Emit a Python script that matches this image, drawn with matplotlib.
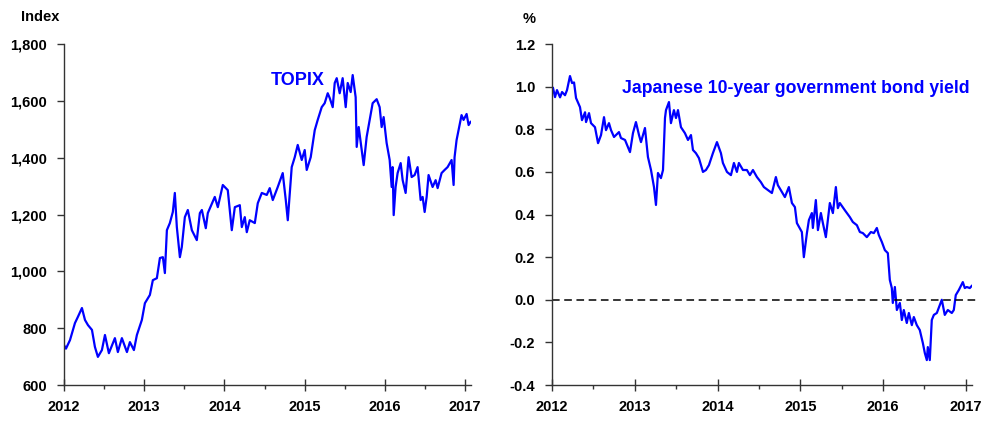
import numpy as np
import matplotlib
matplotlib.use('Agg')
import matplotlib.pyplot as plt
from matplotlib.ticker import MultipleLocator, FuncFormatter

plt.rcParams['font.family'] = ['Liberation Sans', 'DejaVu Sans']
plt.rcParams['font.weight'] = 'bold'

# TOPIX (decimal year, index)
topix_t = [2012.000, 2012.025, 2012.075, 2012.137, 2012.174, 2012.224, 2012.262, 2012.299,
           2012.349, 2012.386, 2012.423, 2012.473, 2012.511, 2012.560, 2012.635, 2012.672,
           2012.722, 2012.785, 2012.822, 2012.872, 2012.909, 2012.971, 2013.009, 2013.071,
           2013.108, 2013.158, 2013.196, 2013.233, 2013.258, 2013.283, 2013.320, 2013.357,
           2013.382, 2013.407, 2013.445, 2013.469, 2013.507, 2013.544, 2013.594, 2013.656,
           2013.694, 2013.719, 2013.768, 2013.793, 2013.880, 2013.918, 2013.980, 2014.042,
           2014.092, 2014.130, 2014.192, 2014.217, 2014.254, 2014.279, 2014.316, 2014.379,
           2014.416, 2014.466, 2014.528, 2014.565, 2014.603, 2014.665, 2014.727, 2014.765,
           2014.790, 2014.839, 2014.877, 2014.914, 2014.964, 2015.001, 2015.026, 2015.076,
           2015.126, 2015.163, 2015.213, 2015.250, 2015.288, 2015.313, 2015.350, 2015.375,
           2015.400, 2015.437, 2015.474, 2015.512, 2015.537, 2015.574, 2015.599, 2015.636,
           2015.649, 2015.674, 2015.711, 2015.736, 2015.773, 2015.811, 2015.848, 2015.898,
           2015.935, 2015.960, 2015.985, 2016.022, 2016.060, 2016.085, 2016.097, 2016.110,
           2016.134, 2016.159, 2016.197, 2016.222, 2016.259, 2016.296, 2016.334, 2016.371,
           2016.408, 2016.446, 2016.471, 2016.496, 2016.521, 2016.545, 2016.595, 2016.633,
           2016.658, 2016.707, 2016.745, 2016.782, 2016.832, 2016.857, 2016.869, 2016.894,
           2016.919, 2016.956, 2016.981, 2017.019, 2017.044, 2017.068]
topix_v = [741, 728, 758, 818, 840, 871, 829, 811,
           794, 734, 699, 723, 776, 712, 765, 716,
           765, 716, 751, 723, 776, 829, 888, 917,
           969, 976, 1047, 1050, 994, 1145, 1170, 1209,
           1276, 1156, 1050, 1086, 1191, 1216, 1145, 1110,
           1205, 1216, 1152, 1205, 1262, 1226, 1304, 1286,
           1145, 1226, 1233, 1156, 1191, 1138, 1180, 1170,
           1240, 1276, 1269, 1293, 1251, 1297, 1346, 1251,
           1180, 1367, 1402, 1445, 1392, 1427, 1357, 1402,
           1497, 1533, 1578, 1592, 1627, 1610, 1578, 1663,
           1680, 1627, 1680, 1578, 1663, 1631, 1691, 1613,
           1438, 1508, 1427, 1374, 1473, 1533, 1592, 1606,
           1578, 1508, 1543, 1452, 1392, 1297, 1367, 1198,
           1297, 1346, 1381, 1321, 1276, 1402, 1332, 1339,
           1367, 1251, 1262, 1209, 1262, 1339, 1297, 1321,
           1293, 1346, 1357, 1367, 1392, 1304, 1402, 1462,
           1497, 1550, 1533, 1554, 1515, 1526]

# Japanese 10-year government bond yield (decimal year, %)
jgb_t = [2012.012, 2012.036, 2012.060, 2012.097, 2012.121, 2012.157, 2012.181, 2012.217,
         2012.242, 2012.266, 2012.290, 2012.338, 2012.362, 2012.399, 2012.411, 2012.447,
         2012.471, 2012.519, 2012.556, 2012.592, 2012.628, 2012.652, 2012.688, 2012.713,
         2012.749, 2012.809, 2012.833, 2012.882, 2012.942, 2012.978, 2013.014, 2013.051,
         2013.075, 2013.123, 2013.159, 2013.196, 2013.232, 2013.256, 2013.280, 2013.316,
         2013.341, 2013.365, 2013.377, 2013.413, 2013.437, 2013.473, 2013.498, 2013.522,
         2013.558, 2013.606, 2013.643, 2013.679, 2013.703, 2013.739, 2013.775, 2013.824,
         2013.860, 2013.896, 2013.944, 2013.993, 2014.041, 2014.065, 2014.114, 2014.162,
         2014.198, 2014.234, 2014.258, 2014.307, 2014.355, 2014.391, 2014.428, 2014.476,
         2014.524, 2014.560, 2014.609, 2014.657, 2014.705, 2014.729, 2014.778, 2014.814,
         2014.862, 2014.899, 2014.935, 2014.959, 2015.019, 2015.043, 2015.080, 2015.104,
         2015.140, 2015.152, 2015.188, 2015.213, 2015.249, 2015.273, 2015.309, 2015.333,
         2015.357, 2015.394, 2015.430, 2015.454, 2015.478, 2015.539, 2015.599, 2015.635,
         2015.684, 2015.720, 2015.756, 2015.804, 2015.853, 2015.889, 2015.925, 2015.949,
         2015.986, 2016.022, 2016.058, 2016.082, 2016.106, 2016.118, 2016.143, 2016.167,
         2016.203, 2016.227, 2016.251, 2016.287, 2016.312, 2016.348, 2016.372, 2016.408,
         2016.444, 2016.481, 2016.505, 2016.529, 2016.541, 2016.565, 2016.589, 2016.614,
         2016.650, 2016.686, 2016.710, 2016.746, 2016.783, 2016.831, 2016.855, 2016.879,
         2016.916, 2016.964, 2016.988, 2017.012, 2017.048, 2017.072]
jgb_v = [0.994, 0.951, 0.984, 0.950, 0.975, 0.960, 0.984, 1.050,
         1.017, 1.020, 0.947, 0.904, 0.843, 0.880, 0.834, 0.876,
         0.829, 0.810, 0.735, 0.773, 0.857, 0.796, 0.829, 0.796,
         0.764, 0.787, 0.759, 0.750, 0.693, 0.782, 0.834, 0.773,
         0.740, 0.806, 0.670, 0.609, 0.529, 0.445, 0.595, 0.571,
         0.609, 0.853, 0.890, 0.928, 0.829, 0.890, 0.853, 0.890,
         0.810, 0.782, 0.750, 0.773, 0.703, 0.688, 0.665, 0.600,
         0.609, 0.632, 0.688, 0.740, 0.688, 0.642, 0.600, 0.585,
         0.642, 0.600, 0.642, 0.609, 0.609, 0.585, 0.609, 0.576,
         0.552, 0.529, 0.515, 0.501, 0.576, 0.538, 0.506, 0.482,
         0.529, 0.454, 0.435, 0.360, 0.318, 0.200, 0.313, 0.374,
         0.407, 0.337, 0.468, 0.327, 0.407, 0.360, 0.294, 0.374,
         0.454, 0.407, 0.529, 0.430, 0.454, 0.420, 0.388, 0.365,
         0.350, 0.318, 0.313, 0.294, 0.318, 0.313, 0.337, 0.304,
         0.271, 0.233, 0.219, 0.093, 0.055, -0.015, 0.060, -0.048,
         -0.015, -0.095, -0.048, -0.109, -0.062, -0.119, -0.081, -0.119,
         -0.142, -0.203, -0.250, -0.283, -0.222, -0.283, -0.095, -0.071,
         -0.062, -0.025, 0.000, -0.071, -0.048, -0.062, -0.048, 0.022,
         0.046, 0.083, 0.055, 0.060, 0.055, 0.065]

years = [2012, 2013, 2014, 2015, 2016, 2017]
line_color = '#0000FF'

fig = plt.figure(figsize=(9.87, 4.23), dpi=100)
ax1 = fig.add_axes([0.0648, 0.0898, 0.4125, 0.806])
ax2 = fig.add_axes([0.5593, 0.0898, 0.4255, 0.806])


def style_axis(ax):
    for s in ['top', 'right']:
        ax.spines[s].set_visible(False)
    for s in ['left', 'bottom']:
        ax.spines[s].set_color('#333333')
        ax.spines[s].set_linewidth(1.0)
    ax.set_xticks(years)
    ax.set_xticklabels([str(y) for y in years])
    ax.xaxis.set_minor_locator(MultipleLocator(0.5))
    ax.tick_params(axis='x', which='major', direction='inout', length=8, width=1,
                   labelsize=10.5, pad=7, color='#333333')
    ax.tick_params(axis='x', which='minor', direction='out', length=3, width=1,
                   color='#333333')
    ax.tick_params(axis='y', which='major', direction='out', length=5, width=1,
                   labelsize=10.5, pad=7, color='#333333')
    for lab in ax.get_xticklabels() + ax.get_yticklabels():
        lab.set_fontweight('bold')


# left: TOPIX
ax1.plot(topix_t, topix_v, color=line_color, lw=1.6)
ax1.set_xlim(2012, 2017.075)
ax1.set_ylim(600, 1800)
ax1.yaxis.set_major_locator(MultipleLocator(200))
ax1.yaxis.set_major_formatter(FuncFormatter(lambda v, p: f'{int(v):,}'))
style_axis(ax1)
ax1.text(2014.914, 1673, 'TOPIX', color=line_color, fontsize=13, fontweight='bold',
         ha='center', va='center')
fig.text(40.5 / 987, 1 - 17 / 423, 'Index', fontsize=10.5, fontweight='bold',
         ha='center', va='center')

# right: JGB yield
ax2.plot(jgb_t, jgb_v, color=line_color, lw=1.6)
ax2.plot([2012, 2017.15], [0, 0], color='black', lw=1.1, ls=(0, (5, 3)), clip_on=False)
ax2.set_xlim(2012, 2017.075)
ax2.set_ylim(-0.4, 1.2)
ax2.yaxis.set_major_locator(MultipleLocator(0.2))
ax2.yaxis.set_major_formatter(FuncFormatter(lambda v, p: f'{v:.1f}'))
style_axis(ax2)
ax2.text(2017.05, 0.99, 'Japanese 10-year government bond yield', color=line_color,
         fontsize=12.7, fontweight='bold', ha='right', va='center')
fig.text(529.5 / 987, 1 - 19 / 423, '%', fontsize=10.5, fontweight='bold',
         ha='center', va='center')

fig.savefig('out.png', dpi=100)
